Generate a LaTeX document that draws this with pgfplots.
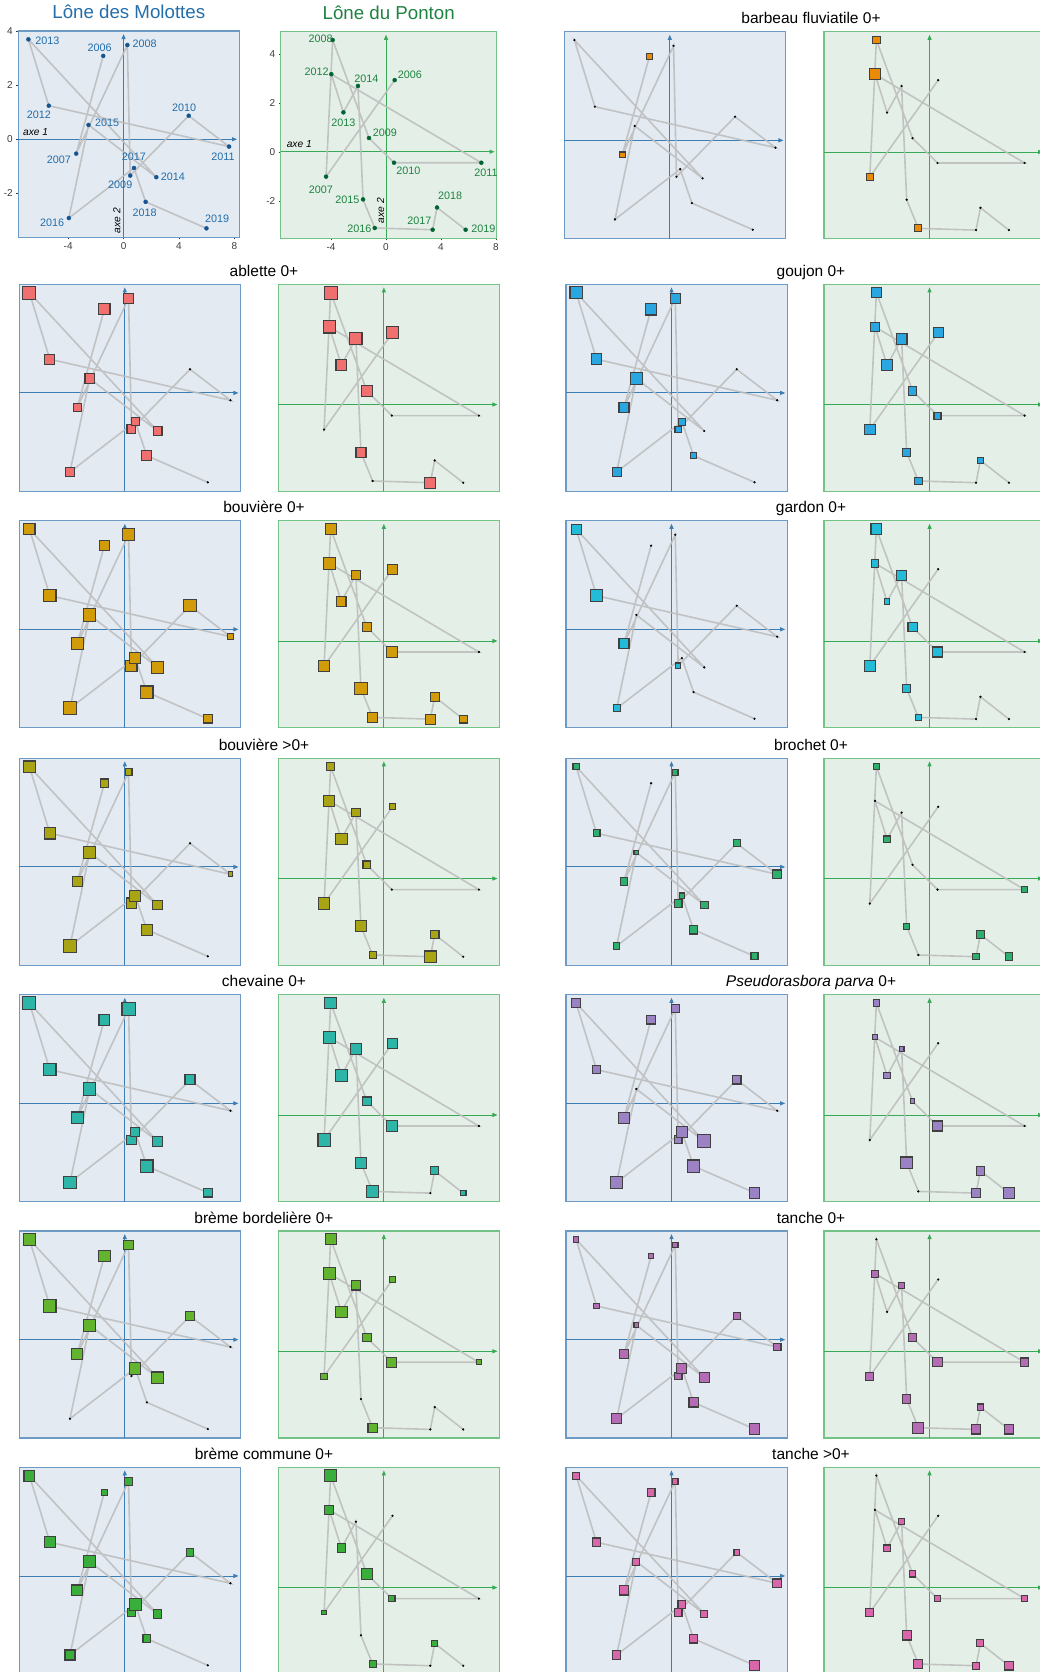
\documentclass[border=0pt]{standalone}
\usepackage{fontspec}
\setmainfont{Liberation Sans}
\usepackage{pgfplots}
\pgfplotsset{compat=1.18}
\usepackage{pgfplotstable}
\usetikzlibrary{arrows.meta}

\definecolor{molbg}{RGB}{227,234,242}
\definecolor{molframe}{RGB}{110,155,198}
\definecolor{molaxis}{RGB}{60,125,180}
\definecolor{molpt}{RGB}{20,85,145}
\definecolor{moltxt}{RGB}{35,110,170}
\definecolor{ponbg}{RGB}{228,240,231}
\definecolor{ponframe}{RGB}{115,195,135}
\definecolor{ponaxis}{RGB}{55,170,85}
\definecolor{ponpt}{RGB}{0,100,50}
\definecolor{pontxt}{RGB}{30,130,65}
\definecolor{trajgray}{RGB}{190,190,190}
\definecolor{tickgray}{RGB}{60,60,60}

\definecolor{cbarb}{RGB}{234,138,6}
\definecolor{cabl}{RGB}{240,112,112}
\definecolor{cbouv}{RGB}{210,155,10}
\definecolor{cbouvA}{RGB}{169,164,20}
\definecolor{cchev}{RGB}{45,181,168}
\definecolor{cbbord}{RGB}{98,179,46}
\definecolor{cbcom}{RGB}{58,174,58}
\definecolor{cgouj}{RGB}{42,166,224}
\definecolor{cgard}{RGB}{34,188,216}
\definecolor{cbroch}{RGB}{47,175,110}
\definecolor{cpseudo}{RGB}{155,130,196}
\definecolor{ctan}{RGB}{180,108,180}
\definecolor{ctanA}{RGB}{217,101,170}

% coordinates of the years on the two sites, and the side (px) of each species' square (0 = none)
\pgfplotstableread{
year x y barb abl bouv bouvA chev bbord bcom gouj gard broch pseudo tan tanA
2006 -1.47 3.08 6 11 10 8.7 10.7 11.3 6.7 11.3 0 0 8.7 6 8
2007 -3.42 -0.53 6 8 12 10 11.3 10.7 10.7 10 10 8 10.7 9.3 9.3
2008 0.27 3.48 0 9.5 12 7.3 12.7 9.3 8 10 0 6 8 6 6
2009 0.48 -1.34 0 9 11 10.7 9.3 0 8.7 6.7 6 8 8 8 8
2010 4.70 0.87 0 0 12 0 10 8.7 8 0 0 7.3 8.7 7.3 6
2011 7.61 -0.27 0 0 6 5.3 0 0 0 0 0 8.7 0 8 8.7
2012 -5.40 1.24 0 10 12 11.3 12 12 10.7 10.7 11.3 7.3 8 6 8.7
2013 -6.87 3.69 0 12.7 11 11.3 12.7 12 10.7 12 10 6.7 9.3 6 7.3
2014 2.36 -1.40 0 9 12 9.3 10 11.3 8.7 0 0 8 12.7 10 7.3
2015 -2.53 0.53 0 9.5 12 12 12 12 12 11.3 0 5.3 0 5.3 7.3
2016 -3.95 -2.91 0 9.5 12.7 12 12 0 10 9.3 7.3 6.7 11.3 10 8.7
2017 0.75 -1.06 0 8 11 10.7 9.3 11.3 12 7.3 0 6 11.3 10 8
2018 1.59 -2.31 0 10 12 10.7 12 0 8 6 0 8.7 12 9.3 8.7
2019 5.98 -3.29 0 0 8.7 0 8.7 0 0 0 0 7.3 10.7 10.7 10
}\mol

\pgfplotstableread{
year x y barb abl bouv bouvA chev bbord bcom gouj gard broch pseudo tan tanA
2006 0.63 2.93 0 12 10 6.7 10 6.7 0 10 0 0 0 0 0
2007 -4.36 -1.02 7.3 0 11.3 11.3 12 6.7 5.3 10.7 11.3 0 0 8 8
2008 -3.88 4.57 8 12.7 10.7 8.7 11.3 10.7 11.3 10 10.7 6 6.7 0 0
2009 -1.24 0.56 0 11.3 9.3 8 8.7 8.7 10.7 8.7 9.3 0 5.3 8.7 6.7
2010 0.58 -0.45 0 0 11.3 0 10.7 10 6.7 7.3 10 0 10 9.3 6.7
2011 6.93 -0.45 0 0 0 0 0 5.3 0 0 0 6 0 8.7 6
2012 -3.98 3.17 10.7 12 12 10.7 12 12 9.3 9.3 8 0 5.3 7.3 0
2013 -3.10 1.61 0 10.7 9.3 11.3 11.3 11.3 8.7 11.3 6 6.7 6.7 0 6.7
2014 -2.04 2.69 0 12 9.3 8.7 10.7 9.3 0 10.7 10 0 5.3 6 6
2015 -1.67 -1.95 0 10 12 10.7 10.7 0 0 8.7 8 6 11.3 8.7 9.3
2016 -0.82 -3.12 7.3 0 10 7.3 11.3 9.3 7.3 8 6 0 0 10.7 9.3
2017 3.39 -3.19 0 10.7 10 11.3 0 0 0 0 0 6.7 9.3 9.3 7.3
2018 3.71 -2.28 0 0 9.3 8.7 8 0 6.7 6.7 0 8.7 8.7 6.7 7.3
2019 5.79 -3.19 0 0 8 0 6 0 0 0 0 8 10.7 9.3 8.7
}\pon

\pgfplotsset{
  panel/.style={width=221.4pt, height=207pt, scale only axis, anchor=north west,
    xtick=\empty, ytick=\empty, clip=false},
  mol/.style={panel, xmin=-7.6, xmax=8.35, ymin=-3.62, ymax=4.0,
    axis background/.style={fill=molbg},
    axis line style={draw=molframe, line width=1.2pt}},
  pon/.style={panel, xmin=-7.7, xmax=8.45, ymin=-3.54, ymax=4.91,
    axis background/.style={fill=ponbg},
    axis line style={draw=ponframe, line width=1.2pt}},
  traj/.style={trajgray, line width=1.6pt, opacity=0.9},
  dotm/.style={only marks, mark=*, mark size=0.9pt, black},
  reftk/.style={tick label style={font=\fontsize{10}{12}\selectfont, text=tickgray},
    /pgf/number format/assume math mode=true, tick pos=left,
    tick align=outside, major tick length=2pt, tick style={draw=tickgray}},
}

\tikzset{
  ml/.style={font=\fontsize{10.8}{12}\selectfont, text=moltxt, inner sep=0pt, anchor=center},
  pl/.style={font=\fontsize{10.8}{12}\selectfont, text=pontxt, inner sep=0pt, anchor=center},
  sptitle/.style={font=\fontsize{15.5}{18}\selectfont, anchor=base},
  axl/.style={font=\fontsize{10.2}{12}\selectfont\itshape, inner sep=0pt, anchor=center},
}

\newcommand{\arrs}[1]{%
  \draw[#1, line width=0.9pt, -{Triangle[length=5pt,width=4pt]}]
    ({rel axis cs:0,0}|-{axis cs:0,0}) -- ({rel axis cs:0.99,0}|-{axis cs:0,0});
  \draw[#1, line width=0.9pt, -{Triangle[length=5pt,width=4pt]}]
    ({axis cs:0,0}|-{rel axis cs:0,0}) -- ({axis cs:0,0}|-{rel axis cs:0,0.985});
}

% #1 left, #2 top (pt), #3 site style, #4 table, #5 column, #6 colour, #7 axis colour
\newcommand{\sppanel}[7]{%
  \begin{axis}[#3, at={(#1pt,#2pt)}]
    \arrs{#7}
    \addplot[traj] table[x=x,y=y]{#4};
    \addplot[dotm] table[x=x,y=y]{#4};
    \addplot[scatter, only marks, mark=square*, line width=1.1pt, point meta=y,
      scatter/use mapped color={draw=black!75, fill=#6},
      visualization depends on={\thisrow{#5} \as \sqside},
      scatter/@pre marker code/.append style={/tikz/mark size={max(1.12*\sqside-1.2,0)/2},
        /tikz/draw=black!75, /tikz/fill=#6}] table[x=x,y=y]{#4};
  \end{axis}}

\begin{document}
\begin{tikzpicture}
\useasboundingbox (0,0) rectangle (1040pt,1672pt);
\clip (0,0) rectangle (1040pt,1672pt);

% reference panel, Molottes
\begin{axis}[mol, reftk, at={(18.3pt,1641pt)}, width=221pt, height=206.3pt,
  xtick={-4,0,4,8}, ytick={-2,0,2,4},
  title={Lône des Molottes},
  title style={at={(0.5,1)}, anchor=base, yshift=6pt, font=\fontsize{18.7}{22}\selectfont, text=moltxt}]
  \arrs{molaxis}
  \addplot[traj] table[x=x,y=y]{\mol};
  \addplot[only marks, mark=*, mark size=2pt, molpt] table[x=x,y=y]{\mol};
  \node[ml, xshift=19pt, yshift=-1pt] at (axis cs:-6.87,3.69) {2013};
  \node[ml, xshift=-3.7pt, yshift=8.3pt] at (axis cs:-1.47,3.08) {2006};
  \node[ml, xshift=17.3pt, yshift=1.3pt] at (axis cs:0.27,3.48) {2008};
  \node[ml, xshift=-10pt, yshift=-9.3pt] at (axis cs:-5.40,1.24) {2012};
  \node[ml, xshift=-4.7pt, yshift=7.7pt] at (axis cs:4.70,0.87) {2010};
  \node[ml, xshift=18.7pt, yshift=1.7pt] at (axis cs:-2.53,0.53) {2015};
  \node[ml, xshift=-6pt, yshift=-10pt] at (axis cs:7.61,-0.27) {2011};
  \node[ml, xshift=-17.3pt, yshift=-6.3pt] at (axis cs:-3.42,-0.53) {2007};
  \node[ml, xshift=0pt, yshift=10.7pt] at (axis cs:0.75,-1.06) {2017};
  \node[ml, xshift=-10pt, yshift=-9pt] at (axis cs:0.48,-1.34) {2009};
  \node[ml, xshift=16.7pt, yshift=0pt] at (axis cs:2.36,-1.40) {2014};
  \node[ml, xshift=-1pt, yshift=-11pt] at (axis cs:1.59,-2.31) {2018};
  \node[ml, xshift=-16.7pt, yshift=-5pt] at (axis cs:-3.95,-2.91) {2016};
  \node[ml, xshift=10.7pt, yshift=9.3pt] at (axis cs:5.98,-3.29) {2019};
  \node[axl, xshift=17.4pt, yshift=7pt] at ({rel axis cs:0,0}|-{axis cs:0,0}) {axe 1};
  \node[axl, xshift=-6.7pt, yshift=16.6pt, rotate=90] at ({axis cs:0,0}|-{rel axis cs:0,0}) {axe 2};
\end{axis}

% reference panel, Ponton
\begin{axis}[pon, reftk, at={(280.7pt,1640.3pt)}, width=216pt, height=206.6pt,
  xmin=-7.66, xmax=8.05,
  xtick={-4,0,4,8}, ytick={-2,0,2,4},
  title={Lône du Ponton},
  title style={at={(0.5,1)}, anchor=base, yshift=6pt, font=\fontsize{18.7}{22}\selectfont, text=pontxt}]
  \arrs{ponaxis}
  \addplot[traj] table[x=x,y=y]{\pon};
  \addplot[only marks, mark=*, mark size=2pt, ponpt] table[x=x,y=y]{\pon};
  \node[pl, xshift=-12pt, yshift=1.7pt] at (axis cs:-3.88,4.57) {2008};
  \node[pl, xshift=-14.7pt, yshift=2pt] at (axis cs:-3.98,3.17) {2012};
  \node[pl, xshift=8.3pt, yshift=7.3pt] at (axis cs:-2.04,2.69) {2014};
  \node[pl, xshift=15.3pt, yshift=5pt] at (axis cs:0.63,2.93) {2006};
  \node[pl, xshift=0pt, yshift=-10.7pt] at (axis cs:-3.10,1.61) {2013};
  \node[pl, xshift=16pt, yshift=5pt] at (axis cs:-1.24,0.56) {2009};
  \node[pl, xshift=14.3pt, yshift=-7.7pt] at (axis cs:0.58,-0.45) {2010};
  \node[pl, xshift=4.7pt, yshift=-10.3pt] at (axis cs:6.93,-0.45) {2011};
  \node[pl, xshift=-5.3pt, yshift=-12.7pt] at (axis cs:-4.36,-1.02) {2007};
  \node[pl, xshift=-15.7pt, yshift=-0.3pt] at (axis cs:-1.67,-1.95) {2015};
  \node[pl, xshift=-15.3pt, yshift=-0.3pt] at (axis cs:-0.82,-3.12) {2016};
  \node[pl, xshift=-13.3pt, yshift=9.3pt] at (axis cs:3.39,-3.19) {2017};
  \node[pl, xshift=13pt, yshift=11.7pt] at (axis cs:3.71,-2.28) {2018};
  \node[pl, xshift=17.7pt, yshift=1.3pt] at (axis cs:5.79,-3.19) {2019};
  \node[axl, xshift=18.6pt, yshift=7.3pt] at ({rel axis cs:0,0}|-{axis cs:0,0}) {axe 1};
  \node[axl, xshift=-5.3pt, yshift=27.6pt, rotate=90] at ({axis cs:0,0}|-{rel axis cs:0,0}) {axe 2};
\end{axis}

% species titles
\node[sptitle] at (811pt,1648.7pt) {barbeau fluviatile 0+};
\node[sptitle] at (264pt,1395.5pt) {ablette 0+};
\node[sptitle] at (811pt,1395.5pt) {goujon 0+};
\node[sptitle] at (264pt,1159.1pt) {bouvière 0+};
\node[sptitle] at (811pt,1159.1pt) {gardon 0+};
\node[sptitle] at (264pt,921.5pt) {bouvière >0+};
\node[sptitle] at (811pt,921.5pt) {brochet 0+};
\node[sptitle] at (264pt,685.1pt) {chevaine 0+};
\node[sptitle] at (811pt,685.1pt) {\textit{Pseudorasbora parva} 0+};
\node[sptitle] at (264pt,448.8pt) {brème bordelière 0+};
\node[sptitle] at (811pt,448.8pt) {tanche 0+};
\node[sptitle] at (264pt,212.5pt) {brème commune 0+};
\node[sptitle] at (811pt,212.5pt) {tanche >0+};

% species panels
\sppanel{564.3}{1640.3}{mol}{\mol}{barb}{cbarb}{molaxis}
\sppanel{824}{1640.3}{pon}{\pon}{barb}{cbarb}{ponaxis}

\sppanel{19.3}{1387.7}{mol}{\mol}{abl}{cabl}{molaxis}
\sppanel{278.3}{1387.7}{pon}{\pon}{abl}{cabl}{ponaxis}
\sppanel{566}{1387.7}{mol}{\mol}{gouj}{cgouj}{molaxis}
\sppanel{824}{1387.7}{pon}{\pon}{gouj}{cgouj}{ponaxis}

\sppanel{19.3}{1151.3}{mol}{\mol}{bouv}{cbouv}{molaxis}
\sppanel{278.3}{1151.3}{pon}{\pon}{bouv}{cbouv}{ponaxis}
\sppanel{566}{1151.3}{mol}{\mol}{gard}{cgard}{molaxis}
\sppanel{824}{1151.3}{pon}{\pon}{gard}{cgard}{ponaxis}

\sppanel{19.3}{913.7}{mol}{\mol}{bouvA}{cbouvA}{molaxis}
\sppanel{278.3}{913.7}{pon}{\pon}{bouvA}{cbouvA}{ponaxis}
\sppanel{566}{913.7}{mol}{\mol}{broch}{cbroch}{molaxis}
\sppanel{824}{913.7}{pon}{\pon}{broch}{cbroch}{ponaxis}

\sppanel{19.3}{677.3}{mol}{\mol}{chev}{cchev}{molaxis}
\sppanel{278.3}{677.3}{pon}{\pon}{chev}{cchev}{ponaxis}
\sppanel{566}{677.3}{mol}{\mol}{pseudo}{cpseudo}{molaxis}
\sppanel{824}{677.3}{pon}{\pon}{pseudo}{cpseudo}{ponaxis}

\sppanel{19.3}{441}{mol}{\mol}{bbord}{cbbord}{molaxis}
\sppanel{278.3}{441}{pon}{\pon}{bbord}{cbbord}{ponaxis}
\sppanel{566}{441}{mol}{\mol}{tan}{ctan}{molaxis}
\sppanel{824}{441}{pon}{\pon}{tan}{ctan}{ponaxis}

\sppanel{19.3}{204.7}{mol}{\mol}{bcom}{cbcom}{molaxis}
\sppanel{278.3}{204.7}{pon}{\pon}{bcom}{cbcom}{ponaxis}
\sppanel{566}{204.7}{mol}{\mol}{tanA}{ctanA}{molaxis}
\sppanel{824}{204.7}{pon}{\pon}{tanA}{ctanA}{ponaxis}
\end{tikzpicture}
\end{document}
